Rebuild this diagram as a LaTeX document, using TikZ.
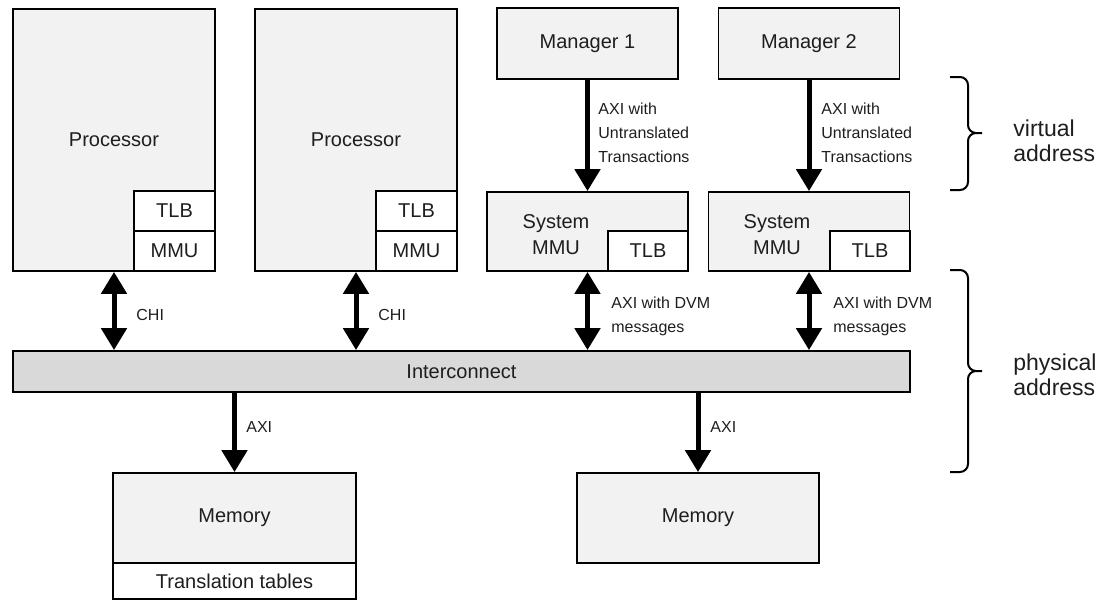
\documentclass[tikz,border=0pt]{standalone}
\usepackage{fontspec}
\setmainfont{Liberation Sans}
\usetikzlibrary{arrows.meta}

\definecolor{boxgray}{HTML}{F2F2F2}
\definecolor{busgray}{HTML}{D9D9D9}
\definecolor{txt}{HTML}{1E1E1E}

\tikzset{
  blk/.style={draw, line width=0.9pt, fill=boxgray, inner sep=0pt, text=txt,
    align=center, font=\fontsize{10}{13}\selectfont},
  sub/.style={blk, fill=white},
  bus/.style={line width=2.5pt, -{Triangle[length=11pt,width=12.5pt]}},
  dbus/.style={line width=2.5pt, {Triangle[length=11pt,width=12.5pt]}-{Triangle[length=11pt,width=12.5pt]}},
  lbl/.style={anchor=west, align=left, inner sep=0pt, text=txt,
    font=\fontsize{8}{12}\selectfont},
  side/.style={anchor=west, align=left, inner sep=0pt, text=txt,
    font=\fontsize{11.5}{12.5}\selectfont},
  brc/.style={line width=1pt, rounded corners=4pt},
}

\begin{document}
\begin{tikzpicture}[x=0.5pt,y=-0.5pt]

  \useasboundingbox (0,0) rectangle (1114,600);

  % Processors with their TLB and MMU
  \node[blk, minimum width=101pt, minimum height=131pt] (proc1) at (114,140) {Processor};
  \node[sub, minimum width=40.5pt, minimum height=20pt] (tlb1) at (174.5,211) {TLB};
  \node[sub, minimum width=40.5pt, minimum height=20pt] (mmu1) at (174.5,251) {MMU};

  \node[blk, minimum width=101pt, minimum height=131pt] (proc2) at (356,140) {Processor};
  \node[sub, minimum width=40.5pt, minimum height=20pt] (tlb2) at (416.5,211) {TLB};
  \node[sub, minimum width=40.5pt, minimum height=20pt] (mmu2) at (416.5,251) {MMU};

  % Managers
  \node[blk, minimum width=90.5pt, minimum height=35.5pt] (mgr1) at (587.5,43.5) {Manager 1};
  \node[blk, minimum width=90.5pt, minimum height=35.5pt] (mgr2) at (809,43.5) {Manager 2};

  % System MMUs
  \node[blk, minimum width=100.5pt, minimum height=39.5pt] (smmu1) at (587.5,231.5) {};
  \node[sub, minimum width=40pt, minimum height=20pt] (stlb1) at (648,251) {TLB};
  \node[text=txt, align=center, font=\fontsize{10}{13}\selectfont] (smmutxt1) at (556,235) {System\\MMU};

  \node[blk, minimum width=100.5pt, minimum height=39.5pt] (smmu2) at (809,231.5) {};
  \node[sub, minimum width=40pt, minimum height=20pt] (stlb2) at (870,251) {TLB};
  \node[text=txt, align=center, font=\fontsize{10}{13}\selectfont] (smmutxt2) at (777,235) {System\\MMU};

  % Interconnect
  \node[blk, fill=busgray, minimum width=448.5pt, minimum height=20.5pt] (ic) at (461.5,371.5) {Interconnect};

  % Memories
  \node[blk, minimum width=121.5pt, minimum height=45pt] (mem1) at (234.5,518) {Memory};
  \node[sub, minimum width=121.5pt, minimum height=18pt] (tt) at (234.5,581) {Translation tables};
  \node[blk, minimum width=121pt, minimum height=45pt] (mem2) at (698,518) {Memory};

  % Buses
  \draw[dbus] (proc1.south) -- (proc1.south |- ic.north);
  \draw[dbus] (proc2.south) -- (proc2.south |- ic.north);
  \draw[bus] (mgr1) -- (smmu1);
  \draw[bus] (mgr2) -- (smmu2);
  \draw[dbus] (smmu1.south) -- (smmu1.south |- ic.north);
  \draw[dbus] (smmu2.south) -- (smmu2.south |- ic.north);
  \draw[bus] (ic.south -| mem1.north) -- (mem1.north);
  \draw[bus] (ic.south -| mem2.north) -- (mem2.north);

  % Bus labels
  \node[lbl] (chi1) at (136,315) {CHI};
  \node[lbl] (chi2) at (378,315) {CHI};
  \node[lbl] (utr1) at (598,133) {AXI with\\Untranslated\\Transactions};
  \node[lbl] (utr2) at (821,133) {AXI with\\Untranslated\\Transactions};
  \node[lbl] (dvm1) at (611,316.5) {AXI with DVM\\messages};
  \node[lbl] (dvm2) at (833,316.5) {AXI with DVM\\messages};
  \node[lbl] (axi1) at (246,427) {AXI};
  \node[lbl] (axi2) at (710,427) {AXI};

  % Address ranges
  \coordinate (vtop) at (950,77);
  \coordinate (vtip) at (982,133);
  \coordinate (vbot) at (950,190);
  \coordinate (ptop) at (950,270);
  \coordinate (ptip) at (982,371);
  \coordinate (pbot) at (950,472);
  \draw[brc] (vtop) -- ++(18,0) |- (vtip) (vbot) -- ++(18,0) |- (vtip);
  \draw[brc] (ptop) -- ++(18,0) |- (ptip) (pbot) -- ++(18,0) |- (ptip);
  \node[side] (virt) at (1013,140.5) {virtual\\address};
  \node[side] (phys) at (1013,374.5) {physical\\address};

\end{tikzpicture}
\end{document}
